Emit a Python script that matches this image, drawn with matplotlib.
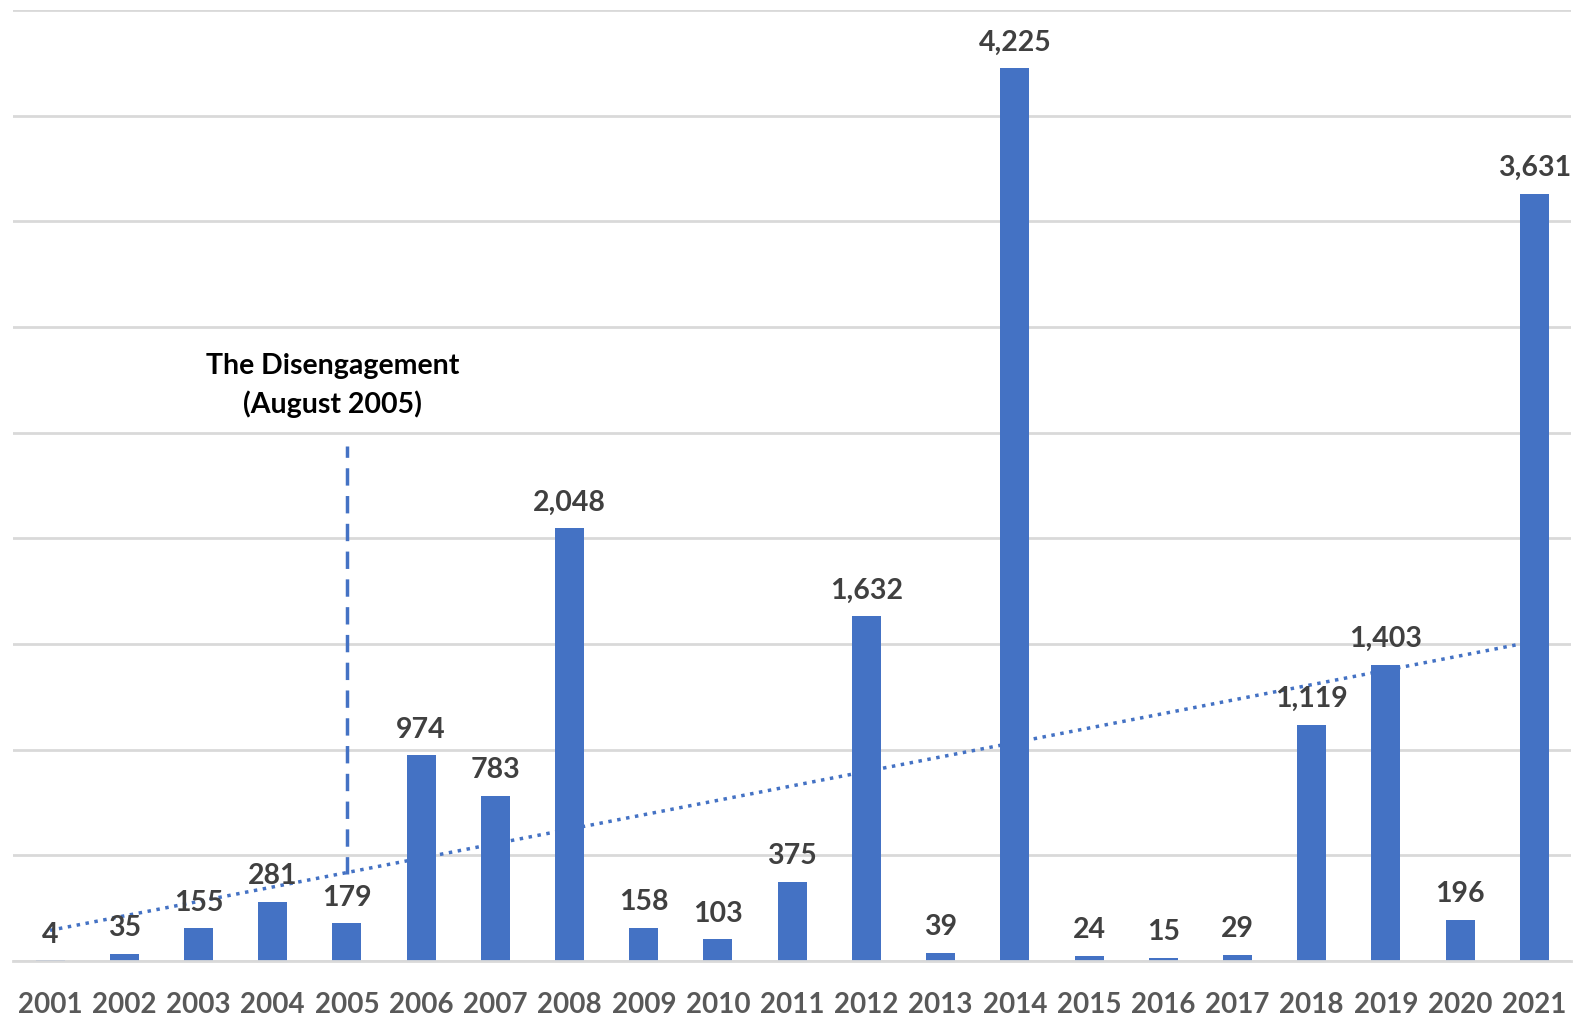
import matplotlib.pyplot as plt
import numpy as np

# data
years = ['2001', '2002', '2003', '2004', '2005', '2006', '2007', '2008', '2009', '2010', '2011',
         '2012', '2013', '2014', '2015', '2016', '2017', '2018', '2019', '2020', '2021']
values = [4, 35, 155, 281, 179, 974, 783, 2048, 158, 103, 375,
          1632, 39, 4225, 24, 15, 29, 1119, 1403, 196, 3631]
event_year = '2005'
event_span = [414, 2436]
event_text = 'The Disengagement\n(August 2005)'

blue = '#4472C4'
plt.rcParams['font.family'] = ['Lato', 'DejaVu Sans']

fig = plt.figure(figsize=(15.79, 10.18), dpi=100)
ax = fig.add_axes([0.0082, 0.056, 0.987, 0.934])

x = np.arange(len(years))
ax.bar(x, values, width=0.39, color=blue, zorder=2)

# value labels
for xi, v in zip(x, values):
    ax.annotate(f'{v:,}', (xi, v), xytext=(0, 9), textcoords='offset points',
                ha='center', va='bottom', fontsize=20.5, fontweight='bold', color='#404040', zorder=4)

# linear trendline
k, b = np.polyfit(x, values, 1)
ax.plot(x, k * x + b, linestyle=(0, (1, 1.6)), color=blue, linewidth=2.5, zorder=3)

# disengagement marker
ex = years.index(event_year)
ax.plot([ex, ex], event_span, linestyle=(0, (5, 3)), color=blue, linewidth=2.5, zorder=3)
ax.text(ex - 0.19, 2570, event_text, ha='center', va='bottom', fontsize=20.5,
        fontweight='bold', color='black', linespacing=1.5)

ax.set_xlim(-0.5, len(years) - 0.5)
ax.set_ylim(0, 4500)
ax.set_yticks(np.arange(0, 4501, 500))
ax.yaxis.grid(True, color='#d9d9d9', linewidth=2)
ax.set_axisbelow(True)
ax.tick_params(axis='y', left=False, labelleft=False)
ax.set_xticks(x)
ax.set_xticklabels(years, fontsize=20, fontweight='bold', color='#595959')
ax.tick_params(axis='x', length=0, pad=22)
for s in ['top', 'right', 'left']:
    ax.spines[s].set_visible(False)
ax.spines['bottom'].set_color('#d9d9d9')
ax.spines['bottom'].set_linewidth(2)

fig.savefig('out.png', dpi=100)
